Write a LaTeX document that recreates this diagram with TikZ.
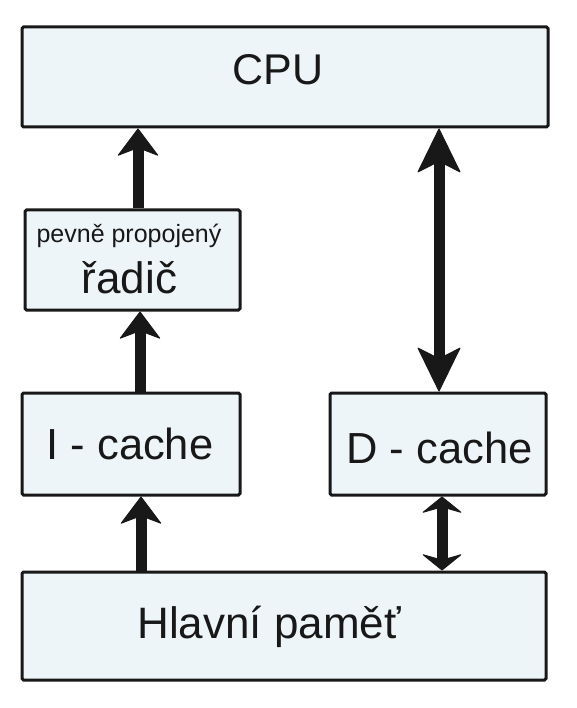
\documentclass[tikz,border=0pt]{standalone}
\usepackage{fontspec}
\setmainfont{Liberation Sans}
\usetikzlibrary{arrows.meta}
\definecolor{boxfill}{RGB}{238,245,248}
\definecolor{ink}{RGB}{24,24,24}
\tikzset{
  blk/.style={draw=ink, fill=boxfill, line width=3pt, rounded corners=1.5pt, inner sep=0pt, text=ink},
  lbl/.style={text=ink, inner sep=0pt, anchor=base},
  shaft/.style={draw=ink, line width=11pt},
  hdA/.tip={Stealth[length=28pt,width=42pt,inset=8pt,line width=1pt,round]},
  hdB/.tip={Stealth[length=45pt,width=44pt,inset=11pt,line width=1pt,round]},
  hdC/.tip={Stealth[length=17pt,width=42pt,inset=6pt,line width=1pt,round]},
}
\begin{document}
\begin{tikzpicture}[x=1pt,y=-1pt]
\useasboundingbox (0,0) rectangle (577,708);
\node[blk, minimum width=526pt, minimum height=100pt] (cpu) at (285,77) {};
\node[lbl, font=\fontsize{43}{43}\selectfont] (cputxt) at (278,85) {CPU};
\node[blk, minimum width=215pt, minimum height=100pt] (ctrl) at (132.5,260) {};
\node[lbl, font=\fontsize{25}{25}\selectfont] (ctrl1) at (129,243) {pevně propojený};
\node[lbl, font=\fontsize{44}{44}\selectfont] (ctrl2) at (129.5,293) {řadič};
\node[blk, minimum width=218pt, minimum height=102pt] (icache) at (131,444) {};
\node[lbl, font=\fontsize{43.5}{43.5}\selectfont] (itxt) at (130,459) {I - cache};
\node[blk, minimum width=216pt, minimum height=102pt] (dcache) at (438,444) {};
\node[lbl, font=\fontsize{43.5}{43.5}\selectfont] (dtxt) at (439.5,463) {D - cache};
\node[blk, minimum width=524pt, minimum height=108pt] (mem) at (284,626) {};
\node[lbl, font=\fontsize{44}{44}\selectfont] (mtxt) at (269,638) {Hlavní paměť};
\coordinate (l1) at (138,0);
\coordinate (l2) at (140,0);
\coordinate (l3) at (141,0);
\coordinate (r1) at (439,0);
\coordinate (r2) at (442,0);
\draw[shaft,-hdA] (ctrl.north -| l1) -- (cpu.south -| l1);
\draw[shaft,-hdA] (icache.north -| l2) -- (ctrl.south -| l2);
\draw[shaft,-hdA] (mem.north -| l3) -- (icache.south -| l3);
\draw[shaft,hdB-hdB] (cpu.south -| r1) -- (dcache.north -| r1);
\draw[shaft,hdC-hdC] (dcache.south -| r2) -- (mem.north -| r2);
\end{tikzpicture}
\end{document}
